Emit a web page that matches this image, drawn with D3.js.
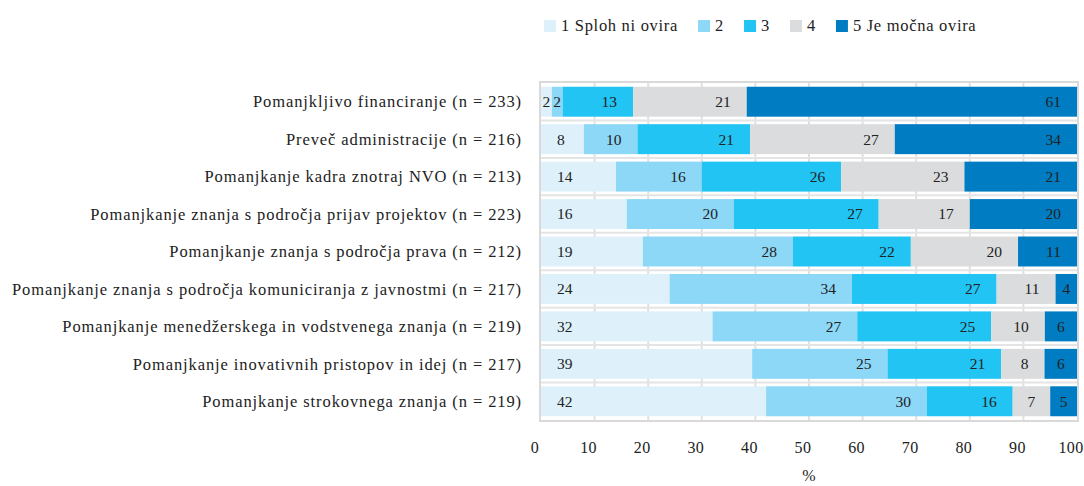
<!DOCTYPE html>
<html>
<head>
<meta charset="utf-8">
<script src="https://cdn.jsdelivr.net/npm/d3@7"></script>
<style>
  body { margin: 0; background: #fff; }
  svg text { font-family: "Liberation Serif", "DejaVu Serif", serif; fill: #222; }
</style>
</head>
<body>
<svg id="chart" width="1084" height="486"></svg>
<script>
var categories = [
    "Pomanjkljivo financiranje (n = 233)",
    "Preveč administracije (n = 216)",
    "Pomanjkanje kadra znotraj NVO (n = 213)",
    "Pomanjkanje znanja s področja prijav projektov (n = 223)",
    "Pomanjkanje znanja s področja prava (n = 212)",
    "Pomanjkanje znanja s področja komuniciranja z javnostmi (n = 217)",
    "Pomanjkanje menedžerskega in vodstvenega znanja (n = 219)",
    "Pomanjkanje inovativnih pristopov in idej (n = 217)",
    "Pomanjkanje strokovnega znanja (n = 219)"
];
var seriesNames = ["1 Sploh ni ovira", "2", "3", "4", "5 Je močna ovira"];
var colors = ["#def1fb", "#8dd7f7", "#21c4f3", "#dbdcde", "#007cc3"];

// one array per answer, in category order
var s1 = [2, 8, 14, 16, 19, 24, 32, 39, 42];
var s2 = [2, 10, 16, 20, 28, 34, 27, 25, 30];
var s3 = [13, 21, 26, 27, 22, 27, 25, 21, 16];
var s4 = [21, 27, 23, 17, 20, 11, 10, 8, 7];
var s5 = [61, 34, 21, 20, 11, 4, 6, 6, 5];
var xTicks = [0, 10, 20, 30, 40, 50, 60, 70, 80, 90, 100];

var svg = d3.select("#chart"),
    margins = {"left": 541, "right": 7, "top": 83, "bottom": 66},
    width = 1084, height = 486;

var rows = categories.map(function(c, i) {
    return {cat: c, "0": s1[i], "1": s2[i], "2": s3[i], "3": s4[i], "4": s5[i]};
});

var stacked = d3.stack().keys(["0", "1", "2", "3", "4"]).offset(d3.stackOffsetExpand)(rows);

var x = d3.scaleLinear().domain([0, 1]).range([margins.left, width - margins.right]);
var y = d3.scaleBand().domain(categories).range([margins.top, height - margins.bottom])
    .paddingInner(0.2).paddingOuter(0.1);

// grid
svg.append("g").selectAll("line").data(xTicks.slice(1, -1)).enter().append("line")
    .attr("x1", d => x(d / 100)).attr("x2", d => x(d / 100))
    .attr("y1", margins.top).attr("y2", height - margins.bottom)
    .attr("stroke", "#e0e0e0").attr("stroke-width", 2);

var step = y.step();
svg.append("g").selectAll("line").data(categories.slice(1)).enter().append("line")
    .attr("x1", margins.left).attr("x2", width - margins.right)
    .attr("y1", d => y(d) - step * 0.1).attr("y2", d => y(d) - step * 0.1)
    .attr("stroke", "#e4e4e4").attr("stroke-width", 2);

// bars
var groups = svg.append("g").selectAll("g").data(stacked).enter().append("g")
    .attr("fill", (d, i) => colors[i]);

groups.selectAll("rect").data(d => d).enter().append("rect")
    .attr("x", d => x(d[0]))
    .attr("y", d => y(d.data.cat))
    .attr("width", d => x(d[1]) - x(d[0]))
    .attr("height", y.bandwidth());

// labels
stacked.forEach(function(layer, si) {
    layer.forEach(function(d) {
        var x0 = x(d[0]), x1 = x(d[1]), w = x1 - x0;
        var t = svg.append("text")
            .attr("y", y(d.data.cat) + y.bandwidth() / 2)
            .attr("dy", "0.35em")
            .style("font-size", "15.5px")
            .text(d.data[layer.key]);
        var tw = t.node().getComputedTextLength(), pad = 16;
        if (w < tw + 2 * pad) {
            t.attr("x", x0 + w / 2).attr("text-anchor", "middle");
        } else if (si == 0) {
            t.attr("x", x0 + pad).attr("text-anchor", "start");
        } else {
            t.attr("x", x1 - pad).attr("text-anchor", "end");
        }
    });
});

// plot frame
svg.append("rect")
    .attr("x", margins.left - 1).attr("y", margins.top - 1)
    .attr("width", width - margins.right - margins.left + 2)
    .attr("height", height - margins.bottom - margins.top + 2)
    .attr("fill", "none").attr("stroke", "#d9d9d9").attr("stroke-width", 2);

// category labels
svg.append("g").selectAll("text").data(categories).enter().append("text")
    .attr("x", 522)
    .attr("y", d => y(d) + y.bandwidth() / 2)
    .attr("dy", "0.35em")
    .attr("text-anchor", "end")
    .style("font-size", "16.5px")
    .style("letter-spacing", "0.9px")
    .text(d => d);

// x tick labels (sit a bit left of their gridlines, like the original)
svg.append("g").selectAll("text").data(xTicks).enter().append("text")
    .attr("x", d => x(d / 100) - 6)
    .attr("y", 453)
    .attr("text-anchor", "middle")
    .style("font-size", "16px")
    .style("letter-spacing", "0.4px")
    .text(d => d);

svg.append("text").attr("x", (margins.left + width - margins.right) / 2).attr("y", 481)
    .attr("text-anchor", "middle").style("font-size", "16px").text("%");

// legend
var lx = 544;
seriesNames.forEach(function(name, i) {
    svg.append("rect").attr("x", lx).attr("y", 20).attr("width", 12).attr("height", 12)
        .attr("fill", colors[i]);
    var t = svg.append("text").attr("x", lx + 17).attr("y", 31)
        .style("font-size", "16.5px").style("letter-spacing", "0.7px").text(name);
    lx += 17 + t.node().getComputedTextLength() + 20;
});
</script>
</body>
</html>
